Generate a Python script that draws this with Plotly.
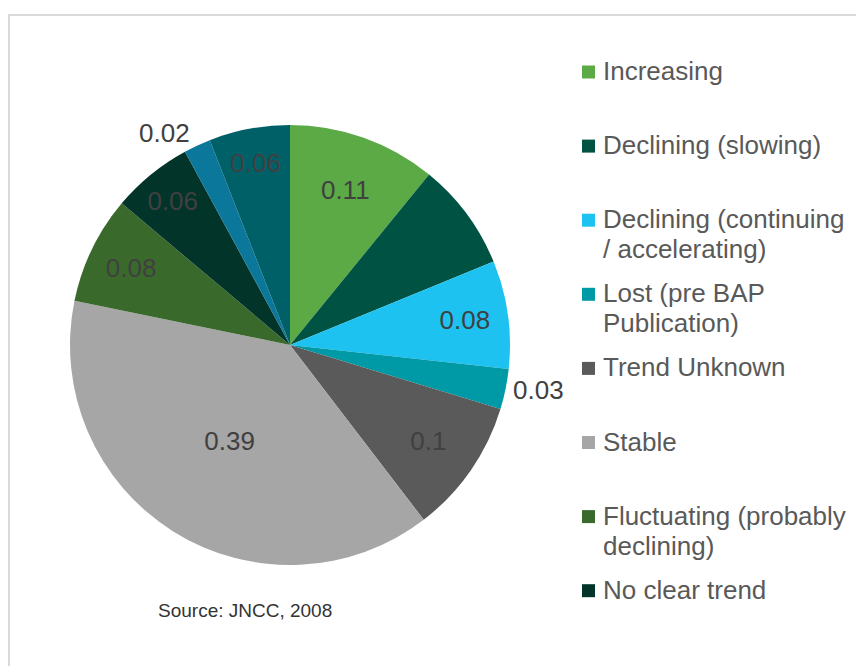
import plotly.graph_objects as go

# Data
categories = [
    "Increasing",
    "Declining (slowing)",
    "Declining (continuing / accelerating)",
    "Lost (pre BAP Publication)",
    "Trend Unknown",
    "Stable",
    "Fluctuating (probably declining)",
    "No clear trend",
    "Lost (post BAP Publication)",
    "Unknown",
]
values = [0.11, 0.08, 0.08, 0.03, 0.10, 0.39, 0.08, 0.06, 0.02, 0.06]
# slice labels as printed in the source (one is not shown)
slice_text = ["0.11", "", "0.08", "0.03", "0.1", "0.39", "0.08", "0.06", "0.02", "0.06"]
text_pos = ["inside", "inside", "inside", "outside", "inside", "inside",
            "inside", "inside", "outside", "inside"]
# legend entries that are visible in the picture (text wrapped as drawn)
legend_labels = [
    ["Increasing"],
    ["Declining (slowing)"],
    ["Declining (continuing", "/ accelerating)"],
    ["Lost (pre BAP", "Publication)"],
    ["Trend Unknown"],
    ["Stable"],
    ["Fluctuating (probably", "declining)"],
    ["No clear trend"],
]

COLORS = ["#5BAA46", "#005242", "#1DC2F1", "#009AA6", "#5A5A5A",
          "#A6A6A6", "#3A6A2B", "#02342A", "#0B789B", "#006068"]
FONT = "Liberation Sans, Arial, sans-serif"
W, H = 864, 666
OFF = 8  # page body margin

# pie centre and radius in page pixels
CX, CY, R = 290 - OFF, 345 - OFF, 220

fig = go.Figure()

fig.add_trace(go.Pie(
    labels=categories,
    values=values,
    text=slice_text,
    textinfo="text",
    textposition=text_pos,
    insidetextorientation="horizontal",
    sort=False,
    direction="clockwise",
    rotation=0,
    marker=dict(colors=COLORS, line=dict(width=0)),
    textfont=dict(family=FONT, size=26, color="#404040"),
    domain=dict(x=[(CX - R) / W, (CX + R) / W],
                y=[(H - CY - R) / H, (H - CY + R) / H]),
    showlegend=False,
    hoverinfo="label+value",
))

# outer frame (only its top and left edges are in view)
shapes = [dict(type="rect", xref="paper", yref="paper",
               x0=1 / W, x1=1.2, y0=-0.2, y1=1 - 7 / H,
               line=dict(color="#D9D9D9", width=2), fillcolor="rgba(0,0,0,0)")]
annotations = []

# Hand-made legend (only the first eight entries are visible)
for i, lines in enumerate(legend_labels):
    yc = 72 - OFF + i * 74.1
    shapes.append(dict(type="rect", xref="paper", yref="paper",
                       x0=(582 - OFF) / W, x1=(595 - OFF) / W,
                       y0=1 - (yc + 6.5) / H, y1=1 - (yc - 6.5) / H,
                       line=dict(width=0), fillcolor=COLORS[i]))
    for j, line in enumerate(lines):
        annotations.append(dict(
            x=(601 - OFF) / W, y=1 - (yc - 1 + j * 30) / H,
            xref="paper", yref="paper",
            text=line, showarrow=False, xanchor="left", yanchor="middle",
            font=dict(family=FONT, size=26, color="#595959"),
        ))

annotations.append(dict(
    x=(245 - OFF) / W, y=1 - (610 - OFF) / H, xref="paper", yref="paper",
    text="Source: JNCC, 2008", showarrow=False,
    xanchor="center", yanchor="middle",
    font=dict(family=FONT, size=19, color="#333333"),
))

fig.update_layout(
    width=W, height=H,
    margin=dict(l=0, r=0, t=0, b=0),
    paper_bgcolor="white",
    plot_bgcolor="white",
    shapes=shapes,
    annotations=annotations,
    uniformtext=dict(minsize=26, mode="show"),
)

fig.write_html("out.html")
